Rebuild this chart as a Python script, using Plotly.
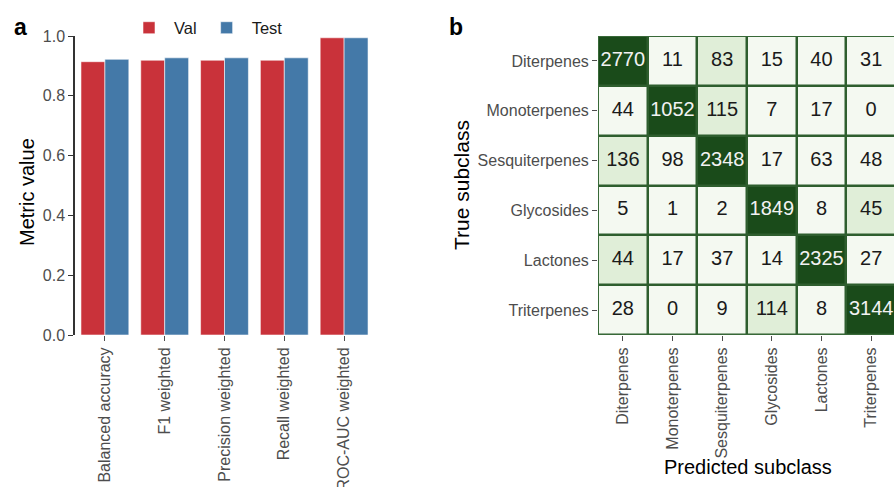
import numpy as np
import plotly.graph_objects as go

# Panel a: model metrics on validation and test sets
metrics = ["Balanced accuracy", "F1 weighted", "Precision weighted",
           "Recall weighted", "ROC-AUC weighted"]
val_scores = [0.914, 0.919, 0.919, 0.919, 0.994]
test_scores = [0.922, 0.927, 0.927, 0.927, 0.994]
y_ticks = [0.0, 0.2, 0.4, 0.6, 0.8, 1.0]

# Panel b: confusion matrix (rows = true subclass, columns = predicted)
subclasses = ["Diterpenes", "Monoterpenes", "Sesquiterpenes",
              "Glycosides", "Lactones", "Triterpenes"]
confusion = [
    [2770, 11, 83, 15, 40, 31],
    [44, 1052, 115, 7, 17, 0],
    [136, 98, 2348, 17, 63, 48],
    [5, 1, 2, 1849, 8, 45],
    [44, 17, 37, 14, 2325, 27],
    [28, 0, 9, 114, 8, 3144],
]

W, H = 894, 487
RED = "#c9323a"
BLUE = "#4479a8"
TICK_GREY = "#4d4d4d"
FONT = "Liberation Sans, Arial, sans-serif"

def px_x(p):
    return p / W

def px_y(p):
    return 1 - p / H

fig = go.Figure()

fig.add_trace(go.Bar(
    x=metrics, y=val_scores, name="Val",
    marker=dict(color=RED, line=dict(color="rgba(255,255,255,0.55)", width=1)),
    xaxis="x", yaxis="y",
))
fig.add_trace(go.Bar(
    x=metrics, y=test_scores, name="Test",
    marker=dict(color=BLUE, line=dict(color="rgba(255,255,255,0.55)", width=1)),
    xaxis="x", yaxis="y",
))

# Shade each row by rank: the correct class darkest, the most frequent
# confusion lightly tinted, everything else near white.
cm = np.array(confusion)
order = np.argsort(-cm, axis=1)
levels = np.zeros_like(cm, dtype=float)
for r in range(cm.shape[0]):
    levels[r, order[r, 0]] = 2
    levels[r, order[r, 1]] = 1

fig.add_trace(go.Heatmap(
    z=levels, x=subclasses, y=subclasses,
    zmin=0, zmax=2,
    colorscale=[[0, "#f4f9f1"], [0.5, "#e0eed8"], [1, "#1a4b1a"]],
    showscale=False, xgap=2.5, ygap=2.5, hoverinfo="skip",
    xaxis="x2", yaxis="y2",
))

cx, cy, ct, cc = [], [], [], []
for r, true_name in enumerate(subclasses):
    for c, pred_name in enumerate(subclasses):
        cx.append(pred_name)
        cy.append(true_name)
        ct.append(str(confusion[r][c]))
        cc.append("#f2f2f2" if levels[r, c] == 2 else "#1a1a1a")

fig.add_trace(go.Scatter(
    x=cx, y=cy, text=ct, mode="text",
    textfont=dict(size=20, color=cc, family=FONT),
    showlegend=False, hoverinfo="skip",
    xaxis="x2", yaxis="y2",
))

# Grid lines between the cells come from a dark panel under the gapped heatmap
fig.add_shape(type="rect", xref="x2", yref="y2",
              x0=-0.5, x1=5.5, y0=-0.5, y1=5.5,
              fillcolor="#2e5e2e", line=dict(color="#3d6e3d", width=1.5),
              layer="below")

y_dom = [px_y(335), px_y(36)]

fig.update_layout(
    width=W, height=H,
    margin=dict(l=0, r=0, t=0, b=0, autoexpand=False),
    paper_bgcolor="white", plot_bgcolor="white",
    font=dict(family=FONT, color=TICK_GREY),
    barmode="group", bargap=0.2, bargroupgap=0,
    showlegend=True,
    legend=dict(orientation="h", x=px_x(124), y=px_y(28),
                xanchor="left", yanchor="middle",
                font=dict(size=16.5, color="#1a1a1a"),
                itemwidth=40, traceorder="normal",
                bgcolor="rgba(0,0,0,0)"),
    xaxis=dict(domain=[px_x(75), px_x(374)], range=[-0.5, 4.5],
               automargin=False,
               showline=False, showgrid=False, zeroline=False,
               ticks="outside", ticklen=5, tickcolor=TICK_GREY,
               tickangle=-90, tickfont=dict(size=16, color=TICK_GREY)),
    yaxis=dict(domain=y_dom, range=[0, 1.0], automargin=False,
               tickvals=y_ticks, ticktext=[f"{v:.1f}" for v in y_ticks],
               showline=True, linecolor="#333333", linewidth=1.5,
               showgrid=False, zeroline=False,
               ticks="outside", ticklen=5, tickcolor="#333333",
               tickfont=dict(size=16, color=TICK_GREY)),
    xaxis2=dict(domain=[px_x(598), 1.0], range=[-0.5, 5.46],
                anchor="y2", automargin=False,
                showline=False, showgrid=False, zeroline=False,
                ticks="outside", ticklen=5, tickcolor=TICK_GREY,
                tickangle=-90, tickfont=dict(size=16, color=TICK_GREY)),
    yaxis2=dict(domain=y_dom, range=[5.5, -0.5], anchor="x2",
                automargin=False,
                showline=False, showgrid=False, zeroline=False,
                ticks="outside", ticklen=5, tickcolor=TICK_GREY,
                tickfont=dict(size=16, color=TICK_GREY)),
)

annotations = [
    dict(text="<b>a</b>", x=px_x(20), y=px_y(27), font=dict(size=23, color="black")),
    dict(text="<b>b</b>", x=px_x(456), y=px_y(27), font=dict(size=23, color="black")),
    dict(text="Metric value", x=px_x(27), y=px_y(192), textangle=-90,
         font=dict(size=20, color="black")),
    dict(text="True subclass", x=px_x(461), y=px_y(185), textangle=-90,
         font=dict(size=21, color="black")),
    dict(text="Predicted subclass", x=px_x(748), y=px_y(467),
         font=dict(size=20, color="black")),
]
for a in annotations:
    a.update(xref="paper", yref="paper", showarrow=False,
             xanchor="center", yanchor="middle")
fig.update_layout(annotations=annotations)

fig.write_html("out.html")
